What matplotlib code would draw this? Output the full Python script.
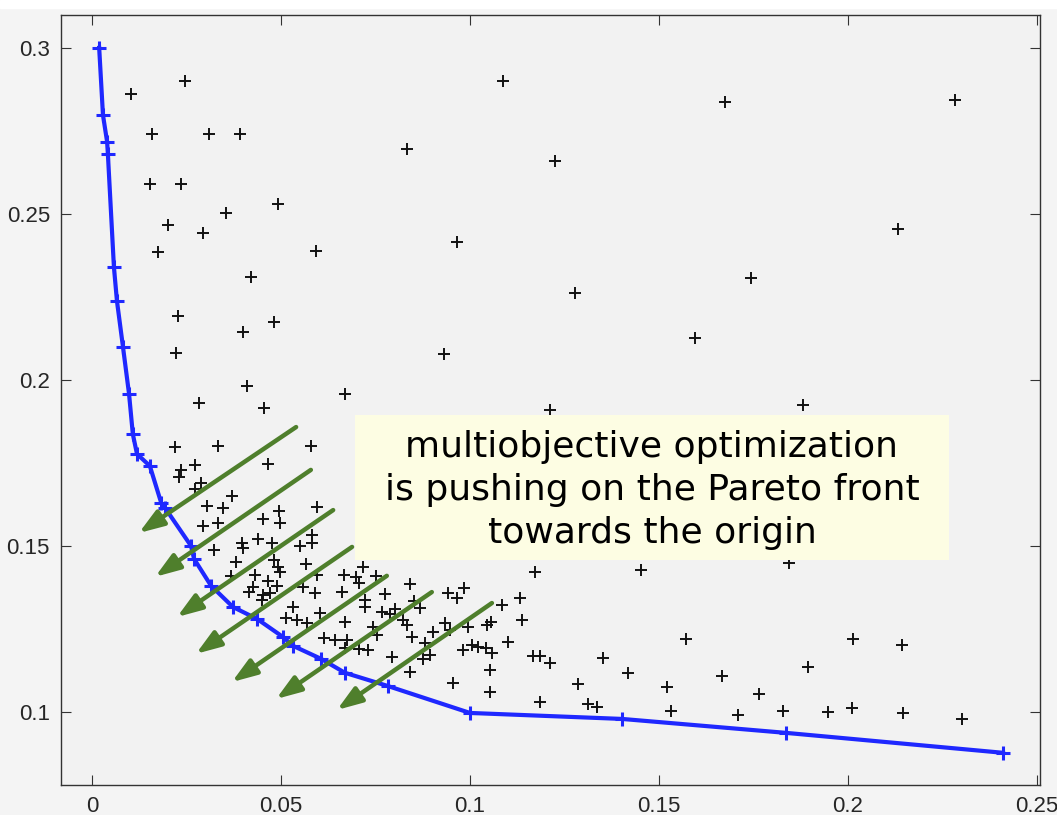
import matplotlib
matplotlib.use("Agg")
import matplotlib.pyplot as plt
from matplotlib.patches import Rectangle

# Pareto front (blue)
front_x = [0.0019, 0.0029, 0.0040, 0.0042, 0.0058, 0.0066, 0.0082, 0.0098, 0.0108,
           0.0119, 0.0153, 0.0183, 0.0193, 0.0262, 0.0270, 0.0315, 0.0373, 0.0437,
           0.0505, 0.0532, 0.0606, 0.0669, 0.0783, 0.1000, 0.1402, 0.1836, 0.2410]
front_y = [0.3000, 0.2798, 0.2717, 0.2681, 0.2340, 0.2238, 0.2099, 0.1958, 0.1837,
           0.1777, 0.1741, 0.1630, 0.1615, 0.1500, 0.1461, 0.1380, 0.1316, 0.1280,
           0.1226, 0.1199, 0.1160, 0.1118, 0.1078, 0.0997, 0.0979, 0.0937, 0.0877]

# dominated solutions (black +)
pop_x = [0.0103, 0.0246, 0.0159, 0.0310, 0.0392, 0.0153, 0.0235, 0.0492, 0.0355, 0.0201,
         0.0294, 0.0175, 0.0593, 0.1087, 0.1675, 0.2283, 0.0833, 0.1225, 0.2132, 0.0966,
         0.1743, 0.1278, 0.1595, 0.0931, 0.0669, 0.1212, 0.1881, 0.0421, 0.0228, 0.0400,
         0.0482, 0.0222, 0.0410, 0.0283, 0.0455, 0.0220, 0.0333, 0.0579, 0.0466, 0.0273,
         0.0235, 0.0230, 0.0288, 0.0273, 0.0370, 0.0304, 0.0347, 0.0595, 0.0495, 0.0452,
         0.0497, 0.0294, 0.0333, 0.0582, 0.0582, 0.0439, 0.0476, 0.0397, 0.0400, 0.0550,
         0.0323, 0.0381, 0.0482, 0.0566, 0.0492, 0.0717, 0.0368, 0.0431, 0.0497, 0.0595,
         0.0667, 0.0698, 0.0706, 0.0751, 0.0466, 0.0426, 0.0489, 0.0590, 0.0661, 0.0558,
         0.0415, 0.0452, 0.0471, 0.0450, 0.0722, 0.0722, 0.0532, 0.0603, 0.0513, 0.0542,
         0.0569, 0.0669, 0.0743, 0.0614, 0.0643, 0.0675, 0.0669, 0.0706, 0.0730, 0.0841,
         0.1172, 0.0984, 0.0942, 0.0966, 0.0775, 0.0852, 0.1132, 0.1085, 0.0767, 0.0788,
         0.0802, 0.0868, 0.0823, 0.0833, 0.1138, 0.1056, 0.1045, 0.0995, 0.0934, 0.0947,
         0.0902, 0.0754, 0.0847, 0.1101, 0.0881, 0.0982, 0.1005, 0.1021, 0.1042, 0.1058,
         0.0794, 0.0894, 0.0876, 0.1167, 0.1185, 0.1212, 0.1053, 0.0841, 0.0955, 0.1053,
         0.1185, 0.1452, 0.1571, 0.1352, 0.1418, 0.1286, 0.1521, 0.1312, 0.1336, 0.1532,
         0.1844, 0.2013, 0.2143, 0.1894, 0.1667, 0.1765, 0.1709, 0.1828, 0.1947, 0.2011,
         0.2146, 0.2302]
pop_y = [0.2861, 0.2901, 0.2741, 0.2741, 0.2741, 0.2590, 0.2590, 0.2530, 0.2503, 0.2467,
         0.2443, 0.2386, 0.2389, 0.2901, 0.2837, 0.2843, 0.2696, 0.2660, 0.2455, 0.2416,
         0.2307, 0.2262, 0.2127, 0.2078, 0.1958, 0.1910, 0.1925, 0.2310, 0.2193, 0.2145,
         0.2175, 0.2081, 0.1982, 0.1931, 0.1916, 0.1798, 0.1801, 0.1801, 0.1747, 0.1744,
         0.1729, 0.1708, 0.1690, 0.1672, 0.1651, 0.1621, 0.1615, 0.1618, 0.1605, 0.1581,
         0.1569, 0.1560, 0.1569, 0.1533, 0.1509, 0.1521, 0.1509, 0.1509, 0.1494, 0.1500,
         0.1488, 0.1452, 0.1458, 0.1446, 0.1437, 0.1437, 0.1410, 0.1413, 0.1422, 0.1413,
         0.1413, 0.1407, 0.1389, 0.1410, 0.1395, 0.1377, 0.1380, 0.1358, 0.1361, 0.1377,
         0.1361, 0.1352, 0.1358, 0.1337, 0.1337, 0.1316, 0.1316, 0.1298, 0.1283, 0.1277,
         0.1268, 0.1271, 0.1256, 0.1223, 0.1217, 0.1217, 0.1193, 0.1190, 0.1187, 0.1386,
         0.1422, 0.1374, 0.1358, 0.1343, 0.1355, 0.1334, 0.1343, 0.1322, 0.1301, 0.1295,
         0.1310, 0.1313, 0.1277, 0.1262, 0.1277, 0.1271, 0.1262, 0.1256, 0.1268, 0.1247,
         0.1241, 0.1232, 0.1226, 0.1211, 0.1208, 0.1187, 0.1202, 0.1196, 0.1193, 0.1178,
         0.1166, 0.1172, 0.1160, 0.1169, 0.1169, 0.1148, 0.1127, 0.1121, 0.1087, 0.1060,
         0.1030, 0.1428, 0.1220, 0.1163, 0.1118, 0.1084, 0.1075, 0.1024, 0.1015, 0.1003,
         0.1449, 0.1220, 0.1202, 0.1136, 0.1108, 0.1054, 0.0991, 0.1003, 0.1000, 0.1012,
         0.0997, 0.0979]

# arrows: tail and head positions (data units)
arrow_tail_x = [0.0540, 0.0579, 0.0638, 0.0688, 0.0780, 0.0899, 0.1058]
arrow_tail_y = [0.1858, 0.1729, 0.1608, 0.1497, 0.1410, 0.1361, 0.1328]
arrow_head_x = [0.0124, 0.0167, 0.0225, 0.0275, 0.0370, 0.0487, 0.0648]
arrow_head_y = [0.1539, 0.1407, 0.1286, 0.1175, 0.1090, 0.1039, 0.1006]

xticks = [0, 0.05, 0.1, 0.15, 0.2, 0.25]
xtick_labels = ['0', '0.05', '0.1', '0.15', '0.2', '0.25']
yticks = [0.1, 0.15, 0.2, 0.25, 0.3]
ytick_labels = ['0.1', '0.15', '0.2', '0.25', '0.3']

note = "multiobjective optimization\nis pushing on the Pareto front\ntowards the origin"

fig = plt.figure(figsize=(10.57, 8.15), dpi=100, facecolor='#f4f4f4')
fig.patches.append(Rectangle((0, 1 - 8 / 815), 1, 8 / 815, transform=fig.transFigure,
                             color='white', zorder=0))
ax = fig.add_axes([61 / 1057, 1 - 785 / 815, 979 / 1057, 770 / 815])
ax.set_facecolor('#f2f2f2')

ax.plot(pop_x, pop_y, linestyle='none', marker='+', color='#111111',
        markersize=9, markeredgewidth=1.4, zorder=2)
ax.plot(front_x, front_y, color='#1f28ff', lw=3.0, marker='+',
        markersize=10, markeredgewidth=2.2, zorder=3)

for tx, ty, hx, hy in zip(arrow_tail_x, arrow_tail_y, arrow_head_x, arrow_head_y):
    ax.annotate('', xy=(hx, hy), xytext=(tx, ty),
                arrowprops=dict(arrowstyle='-|>,head_length=0.6,head_width=0.21',
                                mutation_scale=25, lw=3.2, color='#4f7f2c',
                                shrinkA=0, shrinkB=0),
                zorder=4)

# note box
box_x0, box_x1 = 0.0696, 0.2267
box_y0, box_y1 = 0.1458, 0.1895
ax.add_patch(Rectangle((box_x0, box_y0), box_x1 - box_x0, box_y1 - box_y0,
                       facecolor='#fdfde3', edgecolor='none', zorder=5))
ax.text((box_x0 + box_x1) / 2, (box_y0 + box_y1) / 2 - 0.0008, note,
        ha='center', va='center', fontsize=26, family='DejaVu Sans',
        linespacing=1.33, color='black', zorder=6)

ax.set_xlim(-0.0082, 0.2508)
ax.set_ylim(0.0780, 0.3099)
ax.set_xticks(xticks)
ax.set_xticklabels(xtick_labels)
ax.set_yticks(yticks)
ax.set_yticklabels(ytick_labels)
ax.tick_params(direction='in', length=7, width=0.8, top=True, right=True,
               colors='#333333', labelsize=16, pad=8)
for lab in ax.get_xticklabels() + ax.get_yticklabels():
    lab.set_fontfamily('Liberation Sans')
    lab.set_color('#262626')
for sp in ax.spines.values():
    sp.set_color('#333333')
    sp.set_linewidth(1.0)

fig.savefig('out.png', dpi=100, facecolor=fig.get_facecolor())
